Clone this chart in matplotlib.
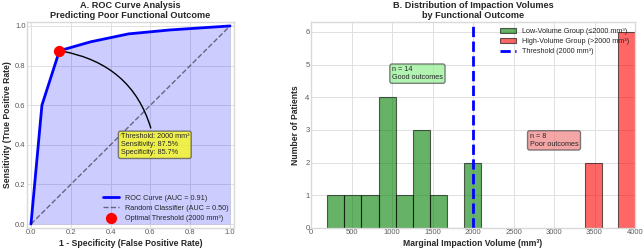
import matplotlib
matplotlib.use("Agg")
import matplotlib.pyplot as plt
import numpy as np

plt.style.use("seaborn-v0_8-whitegrid")
plt.rcParams['font.family'] = ['Liberation Sans', 'DejaVu Sans']

# ROC data
fpr = [0.0, 0.055, 0.143, 0.30, 0.49, 0.70, 1.0]
tpr = [0.0, 0.60, 0.875, 0.92, 0.96, 0.98, 1.0]
opt_fpr, opt_tpr = 0.143, 0.875
auc_label = "ROC Curve (AUC = 0.91)"

# Impaction volumes (mm^3)
low_volumes = [200, 500, 700, 900, 950, 1000, 1020, 1100, 1300, 1350, 1400, 1550, 2000, 2100]
high_volumes = [3380, 3500, 3800, 3850, 3900, 3950, 3980, 4000]
threshold = 2000

fig = plt.figure(figsize=(6.44, 2.52), dpi=100)
ax1 = fig.add_axes([27/644, 24/252, 207/644, 206/252])
ax2 = fig.add_axes([311/644, 24/252, 324/644, 206/252])

tick_fs = 5.5
lab_fs = 6.2
title_fs = 6.6
leg_fs = 5.2

# Panel A
ax1.fill_between(fpr, tpr, 0, color='blue', alpha=0.2, lw=0)
ax1.plot(fpr, tpr, color='blue', lw=2, label=auc_label)
ax1.plot([0, 1], [0, 1], 'k--', alpha=0.5, lw=1, label='Random Classifier (AUC = 0.50)')
ax1.scatter([opt_fpr], [opt_tpr], color='red', s=50, zorder=5, label='Optimal Threshold (2000 mm³)')
ax1.annotate('Threshold: 2000 mm³\nSensitivity: 87.5%\nSpecificity: 85.7%',
             xy=(opt_fpr, opt_tpr), xytext=(0.45, 0.40), va='center', fontsize=5.2,
             bbox=dict(boxstyle='round,pad=0.3', facecolor='yellow', alpha=0.7, edgecolor='0.3'),
             arrowprops=dict(arrowstyle='-', connectionstyle='arc3,rad=0.35', color='black', lw=1))
ax1.set_xlim(-0.02, 1.02)
ax1.set_ylim(-0.02, 1.02)
ax1.set_xticks([0, 0.2, 0.4, 0.6, 0.8, 1.0])
ax1.set_yticks([0, 0.2, 0.4, 0.6, 0.8, 1.0])
ax1.tick_params(labelsize=tick_fs, pad=1, colors='0.35')
ax1.set_xlabel('1 - Specificity (False Positive Rate)', fontsize=lab_fs, fontweight='bold', labelpad=2)
ax1.set_ylabel('Sensitivity (True Positive Rate)', fontsize=lab_fs, fontweight='bold', labelpad=2)
ax1.set_title('A. ROC Curve Analysis\nPredicting Poor Functional Outcome', fontsize=title_fs,
              fontweight='bold', pad=3, linespacing=1.1)
ax1.legend(loc='lower right', fontsize=leg_fs, frameon=False, handlelength=2.2, borderaxespad=0.4,
           labelspacing=0.45)

# Panel B
ax2.hist(low_volumes, bins=9, color='green', alpha=0.6, edgecolor='black', lw=0.8,
         label='Low-Volume Group (≤2000 mm³)')
ax2.hist(high_volumes, bins=3, color='red', alpha=0.6, edgecolor='black', lw=0.8,
         label='High-Volume Group (>2000 mm³)')
ax2.axvline(threshold, color='blue', ls='--', lw=2, label='Threshold (2000 mm³)')
ax2.text(1000, 4.72, 'n = 14\nGood outcomes', fontsize=5.2, va='center',
         bbox=dict(boxstyle='round,pad=0.3', facecolor='lightgreen', alpha=0.7, edgecolor='0.3'))
ax2.text(2700, 2.68, 'n = 8\nPoor outcomes', fontsize=5.2, va='center',
         bbox=dict(boxstyle='round,pad=0.3', facecolor='lightcoral', alpha=0.7, edgecolor='0.3'))
ax2.set_xlim(0, 4000)
ax2.set_ylim(0, 6.3)
ax2.set_xticks(range(0, 4001, 500))
ax2.tick_params(labelsize=tick_fs, pad=1, colors='0.35')
ax2.set_xlabel('Marginal Impaction Volume (mm³)', fontsize=lab_fs, fontweight='bold', labelpad=2)
ax2.set_ylabel('Number of Patients', fontsize=lab_fs, fontweight='bold', labelpad=4)
ax2.set_title('B. Distribution of Impaction Volumes\nby Functional Outcome', fontsize=title_fs,
              fontweight='bold', pad=3, linespacing=1.1)
ax2.legend(loc='upper right', fontsize=leg_fs, frameon=False, handlelength=2.2, borderaxespad=0.4,
           labelspacing=0.45)

for ax in (ax1, ax2):
    for s in ax.spines.values():
        s.set_color('0.85')
    ax.grid(color='0.88', lw=0.7)
    ax.set_axisbelow(True)

fig.savefig('out.png', dpi=100)
